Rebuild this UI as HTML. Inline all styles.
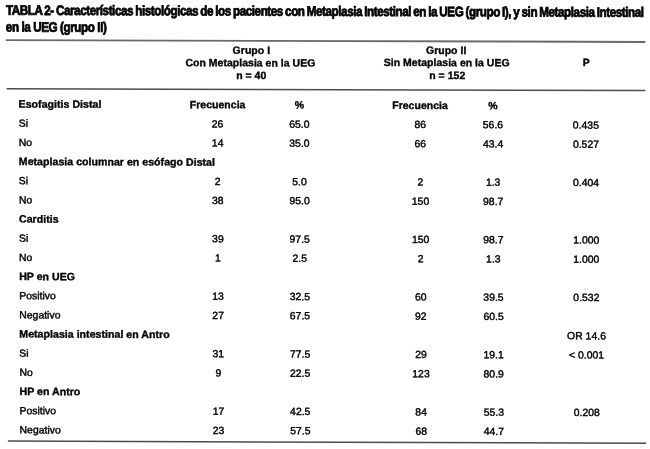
<!DOCTYPE html>
<html lang="es"><head><meta charset="utf-8"><title>TABLA 2</title>
<style>
html,body{margin:0;padding:0;background:#fff;}
body{width:650px;height:449px;position:relative;overflow:hidden;font-family:"Liberation Sans",sans-serif;color:#161616;}
#pg{position:absolute;left:0;top:0;width:650px;height:449px;transform-origin:0 0;transform:matrix(1,0.0033,0.003,1,0,0);}
.t{position:absolute;left:0;top:0;white-space:nowrap;font-size:10.4px;line-height:14px;height:14px;letter-spacing:0.02px;color:#000;-webkit-text-stroke:0.42px #000;}
.t.b{font-size:10.6px;-webkit-text-stroke:0.35px #000;}
.t.h{font-size:10.5px;}
.c{text-align:center;}
.b{font-weight:bold;}
.title{position:absolute;left:0;top:0;white-space:nowrap;font-weight:bold;font-size:13.7px;line-height:16px;height:16px;color:#000;letter-spacing:-0.53px;word-spacing:-0.7px;-webkit-text-stroke:0.75px #000;transform-origin:0 0;}
</style></head><body>
<svg width="650" height="449" viewBox="0 0 650 449" style="position:absolute;left:0;top:0" aria-hidden="true"><polygon points="5.8,39.20 645.3,41.00 645.3,42.90 5.8,41.10" fill="#6a6a6a"/><polygon points="6.6,88.00 645.3,89.80 645.3,91.30 6.6,89.50" fill="#4c4c4c"/><polygon points="7.9,440.30 646,442.60 646,444.10 7.9,441.80" fill="#4c4c4c"/></svg>
<div id="pg">
<div class="title" id="t1" style="transform:translate(5.9px,2.75px) scaleX(0.855)">TABLA 2- Características histológicas de los pacientes con Metaplasia Intestinal en la UEG (grupo I), y sin Metaplasia Intestinal</div>
<div class="title" id="t2" style="transform:translate(5.7px,19.5px) scaleX(0.855);word-spacing:0px;letter-spacing:-0.5px">en la UEG (grupo II)</div>
<div class="t c b h" style="transform:translate(calc(251.2px - 50%),42.05px)">Grupo I</div>
<div class="t c b h" style="transform:translate(calc(250.2px - 50%),54.55px)">Con Metaplasia en la UEG</div>
<div class="t c b h" style="transform:translate(calc(251.0px - 50%),67.15px)">n = 40</div>
<div class="t c b h" style="transform:translate(calc(446px - 50%),41.45px)">Grupo II</div>
<div class="t c b h" style="transform:translate(calc(446.5px - 50%),53.65px)">Sin Metaplasia en la UEG</div>
<div class="t c b h" style="transform:translate(calc(447px - 50%),66.55px)">n = 152</div>
<div class="t c b h" style="transform:translate(calc(586px - 50%),53.15px)">P</div>
<div class="t b" style="transform:translate(18.3px,96.55px)">Esofagitis Distal</div>
<div class="t c b h" style="transform:translate(calc(217.3px - 50%),96.55px)">Frecuencia</div>
<div class="t c b h" style="transform:translate(calc(299.2px - 50%),96.55px)">%</div>
<div class="t c b h" style="transform:translate(calc(419.7px - 50%),96.55px)">Frecuencia</div>
<div class="t c b h" style="transform:translate(calc(492.5px - 50%),96.55px)">%</div>
<div class="t " style="transform:translate(18.3px,116.71px)">Si</div>
<div class="t c" style="transform:translate(calc(217.2px - 50%),116.71px)">26</div>
<div class="t c" style="transform:translate(calc(299.0px - 50%),116.71px)">65.0</div>
<div class="t c" style="transform:translate(calc(419.9px - 50%),116.71px)">86</div>
<div class="t c" style="transform:translate(calc(492.6px - 50%),116.71px)">56.6</div>
<div class="t c" style="transform:translate(calc(585.5px - 50%),116.71px)">0.435</div>
<div class="t " style="transform:translate(18.3px,135.87px)">No</div>
<div class="t c" style="transform:translate(calc(217.2px - 50%),135.87px)">14</div>
<div class="t c" style="transform:translate(calc(299.0px - 50%),135.87px)">35.0</div>
<div class="t c" style="transform:translate(calc(419.9px - 50%),135.87px)">66</div>
<div class="t c" style="transform:translate(calc(492.6px - 50%),135.87px)">43.4</div>
<div class="t c" style="transform:translate(calc(585.5px - 50%),135.87px)">0.527</div>
<div class="t b" style="transform:translate(18.3px,154.03px)">Metaplasia columnar en esófago Distal</div>
<div class="t " style="transform:translate(18.3px,174.19px)">Si</div>
<div class="t c" style="transform:translate(calc(217.2px - 50%),174.19px)">2</div>
<div class="t c" style="transform:translate(calc(299.0px - 50%),174.19px)">5.0</div>
<div class="t c" style="transform:translate(calc(419.9px - 50%),174.19px)">2</div>
<div class="t c" style="transform:translate(calc(492.6px - 50%),174.19px)">1.3</div>
<div class="t c" style="transform:translate(calc(585.5px - 50%),174.19px)">0.404</div>
<div class="t " style="transform:translate(18.3px,193.35px)">No</div>
<div class="t c" style="transform:translate(calc(217.2px - 50%),193.35px)">38</div>
<div class="t c" style="transform:translate(calc(299.0px - 50%),193.35px)">95.0</div>
<div class="t c" style="transform:translate(calc(419.9px - 50%),193.35px)">150</div>
<div class="t c" style="transform:translate(calc(492.6px - 50%),193.35px)">98.7</div>
<div class="t b" style="transform:translate(18.3px,211.51px)">Carditis</div>
<div class="t " style="transform:translate(18.3px,231.67px)">Si</div>
<div class="t c" style="transform:translate(calc(217.2px - 50%),231.67px)">39</div>
<div class="t c" style="transform:translate(calc(299.0px - 50%),231.67px)">97.5</div>
<div class="t c" style="transform:translate(calc(419.9px - 50%),231.67px)">150</div>
<div class="t c" style="transform:translate(calc(492.6px - 50%),231.67px)">98.7</div>
<div class="t c" style="transform:translate(calc(585.5px - 50%),231.67px)">1.000</div>
<div class="t " style="transform:translate(18.3px,250.83px)">No</div>
<div class="t c" style="transform:translate(calc(217.2px - 50%),250.83px)">1</div>
<div class="t c" style="transform:translate(calc(299.0px - 50%),250.83px)">2.5</div>
<div class="t c" style="transform:translate(calc(419.9px - 50%),250.83px)">2</div>
<div class="t c" style="transform:translate(calc(492.6px - 50%),250.83px)">1.3</div>
<div class="t c" style="transform:translate(calc(585.5px - 50%),250.83px)">1.000</div>
<div class="t b" style="transform:translate(18.3px,268.99px)">HP en UEG</div>
<div class="t " style="transform:translate(18.3px,289.15px)">Positivo</div>
<div class="t c" style="transform:translate(calc(217.2px - 50%),289.15px)">13</div>
<div class="t c" style="transform:translate(calc(299.0px - 50%),289.15px)">32.5</div>
<div class="t c" style="transform:translate(calc(419.9px - 50%),289.15px)">60</div>
<div class="t c" style="transform:translate(calc(492.6px - 50%),289.15px)">39.5</div>
<div class="t c" style="transform:translate(calc(585.5px - 50%),289.15px)">0.532</div>
<div class="t " style="transform:translate(18.3px,308.31px)">Negativo</div>
<div class="t c" style="transform:translate(calc(217.2px - 50%),308.31px)">27</div>
<div class="t c" style="transform:translate(calc(299.0px - 50%),308.31px)">67.5</div>
<div class="t c" style="transform:translate(calc(419.9px - 50%),308.31px)">92</div>
<div class="t c" style="transform:translate(calc(492.6px - 50%),308.31px)">60.5</div>
<div class="t b" style="transform:translate(18.3px,326.47px)">Metaplasia intestinal en Antro</div>
<div class="t c" style="transform:translate(calc(585.5px - 50%),327.47px)">OR 14.6</div>
<div class="t " style="transform:translate(18.3px,346.63px)">Si</div>
<div class="t c" style="transform:translate(calc(217.2px - 50%),346.63px)">31</div>
<div class="t c" style="transform:translate(calc(299.0px - 50%),346.63px)">77.5</div>
<div class="t c" style="transform:translate(calc(419.9px - 50%),346.63px)">29</div>
<div class="t c" style="transform:translate(calc(492.6px - 50%),346.63px)">19.1</div>
<div class="t c" style="transform:translate(calc(585.5px - 50%),346.63px)">&lt; 0.001</div>
<div class="t " style="transform:translate(18.3px,365.79px)">No</div>
<div class="t c" style="transform:translate(calc(217.2px - 50%),365.79px)">9</div>
<div class="t c" style="transform:translate(calc(299.0px - 50%),365.79px)">22.5</div>
<div class="t c" style="transform:translate(calc(419.9px - 50%),365.79px)">123</div>
<div class="t c" style="transform:translate(calc(492.6px - 50%),365.79px)">80.9</div>
<div class="t b" style="transform:translate(18.3px,383.95px)">HP en Antro</div>
<div class="t " style="transform:translate(18.3px,404.11px)">Positivo</div>
<div class="t c" style="transform:translate(calc(217.2px - 50%),404.11px)">17</div>
<div class="t c" style="transform:translate(calc(299.0px - 50%),404.11px)">42.5</div>
<div class="t c" style="transform:translate(calc(419.9px - 50%),404.11px)">84</div>
<div class="t c" style="transform:translate(calc(492.6px - 50%),404.11px)">55.3</div>
<div class="t c" style="transform:translate(calc(585.5px - 50%),404.11px)">0.208</div>
<div class="t " style="transform:translate(18.3px,423.27px)">Negativo</div>
<div class="t c" style="transform:translate(calc(217.2px - 50%),423.27px)">23</div>
<div class="t c" style="transform:translate(calc(299.0px - 50%),423.27px)">57.5</div>
<div class="t c" style="transform:translate(calc(419.9px - 50%),423.27px)">68</div>
<div class="t c" style="transform:translate(calc(492.6px - 50%),423.27px)">44.7</div>
</div></body></html>
